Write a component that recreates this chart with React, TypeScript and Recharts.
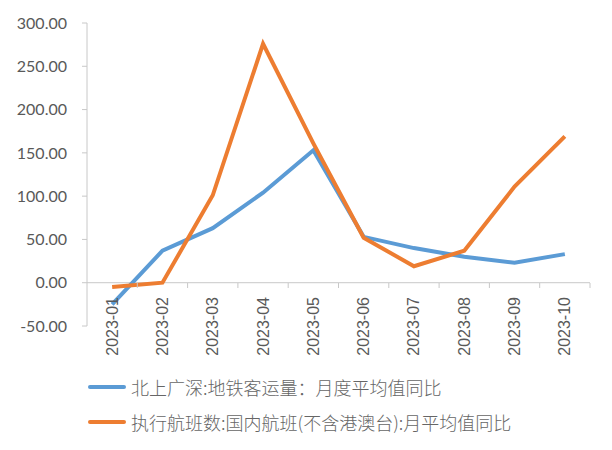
import React from 'react';
import { LineChart, Line, XAxis, YAxis, ReferenceLine, Legend } from 'recharts';

const months = ['2023-01', '2023-02', '2023-03', '2023-04', '2023-05', '2023-06', '2023-07', '2023-08', '2023-09', '2023-10'];
const metroYoY = [-25, 37, 63, 104, 153, 53, 40, 30, 23, 33];
const flightsYoY = [-5, 0, 101, 276, 161, 52, 19, 37, 111, 169];
const yTicks = [-50, 0, 50, 100, 150, 200, 250, 300];

const METRO_NAME = '北上广深:地铁客运量：月度平均值同比';
const FLIGHT_NAME = '执行航班数:国内航班(不含港澳台):月平均值同比';

const data = months.map((m, i) => ({ month: m, metro: metroYoY[i], flights: flightsYoY[i] }));

const W = 612;
const H = 450;
const MARGIN = { top: 23, right: 22, bottom: 94, left: 0 };
const Y_AXIS_W = 87;
const AXIS_COLOR = '#c8c8c8';
const TEXT_COLOR = '#595959';

// Excel-style category labels that hang from the zero line, plus boundary tick marks
const MonthTick = (props: any) => {
  const { x, payload } = props;
  const band = (W - MARGIN.right - Y_AXIS_W) / months.length;
  const zeroY = 283;
  return (
    <g>
      <line x1={x + band / 2} x2={x + band / 2} y1={zeroY} y2={zeroY + 5} stroke={AXIS_COLOR} />
      <text
        x={x}
        y={zeroY + 14}
        transform={`rotate(-90, ${x}, ${zeroY + 14})`}
        textAnchor="end"
        dominantBaseline="central"
        fill={TEXT_COLOR}
        fontSize={16}
        fontFamily="'Liberation Sans', Arial, sans-serif"
      >
        {payload.value}
      </text>
    </g>
  );
};

const LegendContent = (props: any) => {
  const { payload } = props;
  return (
    <div>
      {payload.map((p: any) => (
        <div key={p.value} style={{ display: 'flex', alignItems: 'center', height: 35 }}>
          <div style={{ width: 38, height: 4, background: p.color, borderRadius: 2, marginRight: 5 }} />
          <span style={{ fontSize: 18, color: '#666', fontFamily: "'Noto Sans CJK SC', sans-serif", fontWeight: 300, whiteSpace: 'nowrap' }}>
            {p.value}
          </span>
        </div>
      ))}
    </div>
  );
};

export default function App() {
  return (
    <div style={{ position: 'absolute', left: 0, top: 0, width: W, height: H, background: '#fff' }}>
      <LineChart width={W} height={H} data={data} margin={MARGIN}>
        <YAxis
          width={Y_AXIS_W}
          domain={[-50, 300]}
          ticks={yTicks}
          interval={0}
          tickFormatter={(v: number) => v.toFixed(2)}
          axisLine={{ stroke: AXIS_COLOR }}
          tickLine={{ stroke: AXIS_COLOR }}
          tickSize={5}
          tickMargin={15}
          tick={{ fill: TEXT_COLOR, fontSize: 16, fontFamily: 'Lato, sans-serif' }}
        />
        <XAxis
          dataKey="month"
          scale="band"
          interval={0}
          axisLine={false}
          tickLine={false}
          height={30}
          tick={<MonthTick />}
        />
        <ReferenceLine y={0} stroke={AXIS_COLOR} />
        <Line
          name={METRO_NAME}
          dataKey="metro"
          stroke="#5b9bd5"
          strokeWidth={4}
          dot={false}
          isAnimationActive={false}
        />
        <Line
          name={FLIGHT_NAME}
          dataKey="flights"
          stroke="#ed7d31"
          strokeWidth={4}
          dot={false}
          isAnimationActive={false}
        />
        <Legend
          layout="vertical"
          verticalAlign="middle"
          align="center"
          wrapperStyle={{ left: 88, top: 369, width: 520 }}
          content={<LegendContent />}
        />
      </LineChart>
    </div>
  );
}
